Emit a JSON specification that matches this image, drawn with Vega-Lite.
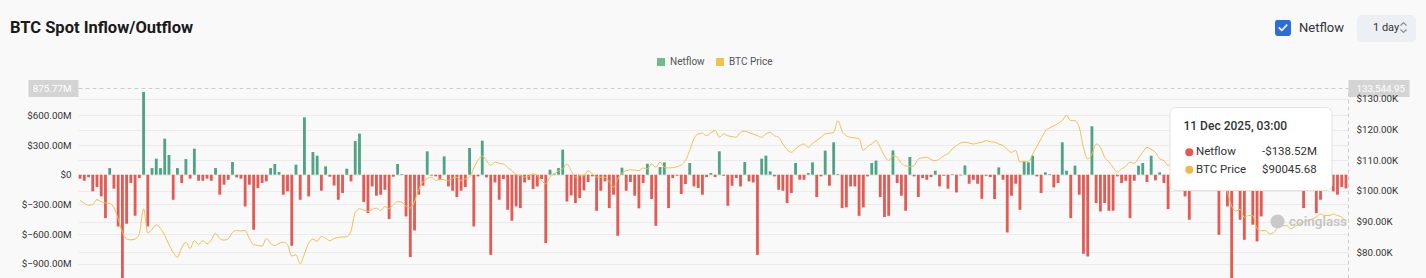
{
  "$schema": "https://vega.github.io/schema/vega-lite/v6.json",
  "width": 1270,
  "height": 190,
  "autosize": "none",
  "padding": {"left": 78, "top": 88, "right": 78, "bottom": 0},
  "background": "#f9f9f9",
  "config": {"font": "Roboto", "view": {"stroke": null}},
  "title": {"text": "BTC Spot Inflow/Outflow", "anchor": "start", "frame": "group", "font": "Roboto", "fontSize": 16.5, "fontWeight": 700, "color": "#1a1a1a", "dx": -68, "offset": 0, "dy": 21},
  "data": {"values": [
{"date":"2025-02-15","netflow":-40,"price":96900},
{"date":"2025-02-16","netflow":-61,"price":96000},
{"date":"2025-02-17","netflow":-25,"price":95300},
{"date":"2025-02-18","netflow":-168,"price":95600},
{"date":"2025-02-19","netflow":-125,"price":97200},
{"date":"2025-02-20","netflow":-219,"price":96500},
{"date":"2025-02-21","netflow":-438,"price":96100},
{"date":"2025-02-22","netflow":67,"price":96000},
{"date":"2025-02-23","netflow":-141,"price":94500},
{"date":"2025-02-24","netflow":-522,"price":91000},
{"date":"2025-02-25","netflow":-1100,"price":86500},
{"date":"2025-02-26","netflow":-495,"price":84400},
{"date":"2025-02-27","netflow":-84,"price":84100},
{"date":"2025-02-28","netflow":-414,"price":84300},
{"date":"2025-03-01","netflow":-34,"price":86000},
{"date":"2025-03-02","netflow":836,"price":94200},
{"date":"2025-03-03","netflow":-522,"price":86300},
{"date":"2025-03-04","netflow":67,"price":87500},
{"date":"2025-03-05","netflow":162,"price":89000},
{"date":"2025-03-06","netflow":67,"price":87800},
{"date":"2025-03-07","netflow":364,"price":85500},
{"date":"2025-03-08","netflow":199,"price":82500},
{"date":"2025-03-09","netflow":-253,"price":80000},
{"date":"2025-03-10","netflow":67,"price":78400},
{"date":"2025-03-11","netflow":-84,"price":81500},
{"date":"2025-03-12","netflow":158,"price":83300},
{"date":"2025-03-13","netflow":-40,"price":81300},
{"date":"2025-03-14","netflow":263,"price":83800},
{"date":"2025-03-15","netflow":-61,"price":82600},
{"date":"2025-03-16","netflow":-61,"price":83800},
{"date":"2025-03-17","netflow":-40,"price":82800},
{"date":"2025-03-18","netflow":-61,"price":84000},
{"date":"2025-03-19","netflow":67,"price":86200},
{"date":"2025-03-20","netflow":-202,"price":84500},
{"date":"2025-03-21","netflow":-101,"price":84000},
{"date":"2025-03-22","netflow":-51,"price":84400},
{"date":"2025-03-23","netflow":128,"price":86500},
{"date":"2025-03-24","netflow":-27,"price":87100},
{"date":"2025-03-25","netflow":-40,"price":87000},
{"date":"2025-03-26","netflow":-320,"price":87100},
{"date":"2025-03-27","netflow":-101,"price":84500},
{"date":"2025-03-28","netflow":-556,"price":82500},
{"date":"2025-03-29","netflow":-135,"price":82300},
{"date":"2025-03-30","netflow":-84,"price":82000},
{"date":"2025-03-31","netflow":-67,"price":84500},
{"date":"2025-04-01","netflow":67,"price":83000},
{"date":"2025-04-02","netflow":108,"price":82200},
{"date":"2025-04-03","netflow":27,"price":83000},
{"date":"2025-04-04","netflow":-202,"price":83300},
{"date":"2025-04-05","netflow":-168,"price":82500},
{"date":"2025-04-06","netflow":-718,"price":78800},
{"date":"2025-04-07","netflow":101,"price":79200},
{"date":"2025-04-08","netflow":-253,"price":76300},
{"date":"2025-04-09","netflow":580,"price":79500},
{"date":"2025-04-10","netflow":-219,"price":83000},
{"date":"2025-04-11","netflow":229,"price":84300},
{"date":"2025-04-12","netflow":192,"price":83600},
{"date":"2025-04-13","netflow":-162,"price":85200},
{"date":"2025-04-14","netflow":84,"price":84600},
{"date":"2025-04-15","netflow":-20,"price":83800},
{"date":"2025-04-16","netflow":-108,"price":84500},
{"date":"2025-04-17","netflow":-253,"price":84900},
{"date":"2025-04-18","netflow":-185,"price":85000},
{"date":"2025-04-19","netflow":61,"price":85100},
{"date":"2025-04-20","netflow":-67,"price":87000},
{"date":"2025-04-21","netflow":340,"price":93000},
{"date":"2025-04-22","netflow":415,"price":94200},
{"date":"2025-04-23","netflow":-276,"price":93800},
{"date":"2025-04-24","netflow":-388,"price":93400},
{"date":"2025-04-25","netflow":-118,"price":94000},
{"date":"2025-04-26","netflow":-212,"price":94400},
{"date":"2025-04-27","netflow":-202,"price":93600},
{"date":"2025-04-28","netflow":-152,"price":94900},
{"date":"2025-04-29","netflow":-448,"price":94300},
{"date":"2025-04-30","netflow":-20,"price":95500},
{"date":"2025-05-01","netflow":108,"price":96500},
{"date":"2025-05-02","netflow":7,"price":96300},
{"date":"2025-05-03","netflow":-421,"price":95000},
{"date":"2025-05-04","netflow":-832,"price":94500},
{"date":"2025-05-05","netflow":-563,"price":96500},
{"date":"2025-05-06","netflow":-202,"price":100500},
{"date":"2025-05-07","netflow":-111,"price":103000},
{"date":"2025-05-08","netflow":236,"price":104000},
{"date":"2025-05-09","netflow":-8,"price":104500},
{"date":"2025-05-10","netflow":-17,"price":103400},
{"date":"2025-05-11","netflow":-51,"price":103900},
{"date":"2025-05-12","netflow":185,"price":103600},
{"date":"2025-05-13","netflow":-118,"price":103400},
{"date":"2025-05-14","netflow":-162,"price":104200},
{"date":"2025-05-15","netflow":-226,"price":104500},
{"date":"2025-05-16","netflow":-162,"price":103400},
{"date":"2025-05-17","netflow":-125,"price":104000},
{"date":"2025-05-18","netflow":270,"price":104500},
{"date":"2025-05-19","netflow":-522,"price":107500},
{"date":"2025-05-20","netflow":-17,"price":110000},
{"date":"2025-05-21","netflow":344,"price":111400},
{"date":"2025-05-22","netflow":-27,"price":109900},
{"date":"2025-05-23","netflow":-809,"price":108300},
{"date":"2025-05-24","netflow":-78,"price":109400},
{"date":"2025-05-25","netflow":-253,"price":109000},
{"date":"2025-05-26","netflow":-44,"price":108800},
{"date":"2025-05-27","netflow":-354,"price":107700},
{"date":"2025-05-28","netflow":-465,"price":106600},
{"date":"2025-05-29","netflow":-320,"price":105300},
{"date":"2025-05-30","netflow":-337,"price":105000},
{"date":"2025-05-31","netflow":-78,"price":104500},
{"date":"2025-06-01","netflow":-51,"price":104800},
{"date":"2025-06-02","netflow":-145,"price":105600},
{"date":"2025-06-03","netflow":-118,"price":105000},
{"date":"2025-06-04","netflow":-44,"price":103400},
{"date":"2025-06-05","netflow":-691,"price":102300},
{"date":"2025-06-06","netflow":51,"price":104500},
{"date":"2025-06-07","netflow":10,"price":105600},
{"date":"2025-06-08","netflow":67,"price":106500},
{"date":"2025-06-09","netflow":253,"price":107200},
{"date":"2025-06-10","netflow":-270,"price":108800},
{"date":"2025-06-11","netflow":-209,"price":106600},
{"date":"2025-06-12","netflow":-286,"price":104500},
{"date":"2025-06-13","netflow":-236,"price":105000},
{"date":"2025-06-14","netflow":-158,"price":105000},
{"date":"2025-06-15","netflow":-74,"price":106600},
{"date":"2025-06-16","netflow":-17,"price":105600},
{"date":"2025-06-17","netflow":-364,"price":104500},
{"date":"2025-06-18","netflow":-162,"price":104500},
{"date":"2025-06-19","netflow":-67,"price":104500},
{"date":"2025-06-20","netflow":-337,"price":103000},
{"date":"2025-06-21","netflow":-202,"price":101200},
{"date":"2025-06-22","netflow":-617,"price":104000},
{"date":"2025-06-23","netflow":71,"price":105800},
{"date":"2025-06-24","netflow":-162,"price":106600},
{"date":"2025-06-25","netflow":-74,"price":106900},
{"date":"2025-06-26","netflow":-212,"price":106800},
{"date":"2025-06-27","netflow":-340,"price":106600},
{"date":"2025-06-28","netflow":-84,"price":107500},
{"date":"2025-06-29","netflow":111,"price":107200},
{"date":"2025-06-30","netflow":-246,"price":108800},
{"date":"2025-07-01","netflow":-516,"price":107700},
{"date":"2025-07-02","netflow":78,"price":109400},
{"date":"2025-07-03","netflow":125,"price":107700},
{"date":"2025-07-04","netflow":-337,"price":107500},
{"date":"2025-07-05","netflow":-34,"price":107600},
{"date":"2025-07-06","netflow":-10,"price":107900},
{"date":"2025-07-07","netflow":-195,"price":108500},
{"date":"2025-07-08","netflow":-94,"price":110000},
{"date":"2025-07-09","netflow":118,"price":113200},
{"date":"2025-07-10","netflow":-118,"price":117000},
{"date":"2025-07-11","netflow":-135,"price":118600},
{"date":"2025-07-12","netflow":-202,"price":118800},
{"date":"2025-07-13","netflow":-24,"price":118000},
{"date":"2025-07-14","netflow":17,"price":119000},
{"date":"2025-07-15","netflow":-24,"price":119700},
{"date":"2025-07-16","netflow":236,"price":117500},
{"date":"2025-07-17","netflow":-10,"price":118600},
{"date":"2025-07-18","netflow":-313,"price":118000},
{"date":"2025-07-19","netflow":-111,"price":117700},
{"date":"2025-07-20","netflow":-34,"price":117500},
{"date":"2025-07-21","netflow":-118,"price":119100},
{"date":"2025-07-22","netflow":128,"price":119500},
{"date":"2025-07-23","netflow":-67,"price":119000},
{"date":"2025-07-24","netflow":-78,"price":118500},
{"date":"2025-07-25","netflow":-809,"price":118000},
{"date":"2025-07-26","netflow":162,"price":117500},
{"date":"2025-07-27","netflow":192,"price":118600},
{"date":"2025-07-28","netflow":34,"price":119100},
{"date":"2025-07-29","netflow":-17,"price":118000},
{"date":"2025-07-30","netflow":-152,"price":117500},
{"date":"2025-07-31","netflow":-162,"price":115300},
{"date":"2025-08-01","netflow":-286,"price":113500},
{"date":"2025-08-02","netflow":-185,"price":112600},
{"date":"2025-08-03","netflow":118,"price":113700},
{"date":"2025-08-04","netflow":-51,"price":114800},
{"date":"2025-08-05","netflow":-51,"price":115300},
{"date":"2025-08-06","netflow":17,"price":114200},
{"date":"2025-08-07","netflow":125,"price":115500},
{"date":"2025-08-08","netflow":-226,"price":116400},
{"date":"2025-08-09","netflow":-17,"price":117500},
{"date":"2025-08-10","netflow":243,"price":118600},
{"date":"2025-08-11","netflow":-111,"price":118800},
{"date":"2025-08-12","netflow":327,"price":119100},
{"date":"2025-08-13","netflow":7,"price":122900},
{"date":"2025-08-14","netflow":-337,"price":119500},
{"date":"2025-08-15","netflow":-330,"price":118000},
{"date":"2025-08-16","netflow":-118,"price":117500},
{"date":"2025-08-17","netflow":-118,"price":117300},
{"date":"2025-08-18","netflow":-415,"price":117000},
{"date":"2025-08-19","netflow":-330,"price":113200},
{"date":"2025-08-20","netflow":-17,"price":114500},
{"date":"2025-08-21","netflow":118,"price":115300},
{"date":"2025-08-22","netflow":142,"price":116400},
{"date":"2025-08-23","netflow":-226,"price":114200},
{"date":"2025-08-24","netflow":-428,"price":111500},
{"date":"2025-08-25","netflow":-415,"price":109900},
{"date":"2025-08-26","netflow":246,"price":111500},
{"date":"2025-08-27","netflow":-84,"price":111000},
{"date":"2025-08-28","netflow":-212,"price":109000},
{"date":"2025-08-29","netflow":-364,"price":108200},
{"date":"2025-08-30","netflow":179,"price":107900},
{"date":"2025-08-31","netflow":-17,"price":108300},
{"date":"2025-09-01","netflow":-226,"price":110400},
{"date":"2025-09-02","netflow":-34,"price":110800},
{"date":"2025-09-03","netflow":-51,"price":111000},
{"date":"2025-09-04","netflow":-24,"price":110200},
{"date":"2025-09-05","netflow":40,"price":109900},
{"date":"2025-09-06","netflow":-118,"price":110400},
{"date":"2025-09-07","netflow":-10,"price":111500},
{"date":"2025-09-08","netflow":-141,"price":112100},
{"date":"2025-09-09","netflow":7,"price":113700},
{"date":"2025-09-10","netflow":-179,"price":114800},
{"date":"2025-09-11","netflow":-7,"price":115600},
{"date":"2025-09-12","netflow":94,"price":115900},
{"date":"2025-09-13","netflow":-91,"price":115600},
{"date":"2025-09-14","netflow":-51,"price":115300},
{"date":"2025-09-15","netflow":-91,"price":115600},
{"date":"2025-09-16","netflow":-243,"price":115900},
{"date":"2025-09-17","netflow":-10,"price":116400},
{"date":"2025-09-18","netflow":-24,"price":116000},
{"date":"2025-09-19","netflow":-246,"price":115900},
{"date":"2025-09-20","netflow":74,"price":115300},
{"date":"2025-09-21","netflow":-51,"price":114800},
{"date":"2025-09-22","netflow":-583,"price":113500},
{"date":"2025-09-23","netflow":-212,"price":112600},
{"date":"2025-09-24","netflow":-91,"price":113200},
{"date":"2025-09-25","netflow":-354,"price":109400},
{"date":"2025-09-26","netflow":131,"price":109700},
{"date":"2025-09-27","netflow":125,"price":109500},
{"date":"2025-09-28","netflow":192,"price":112000},
{"date":"2025-09-29","netflow":-17,"price":114500},
{"date":"2025-09-30","netflow":-185,"price":117000},
{"date":"2025-10-01","netflow":24,"price":119500},
{"date":"2025-10-02","netflow":7,"price":120500},
{"date":"2025-10-03","netflow":-128,"price":121200},
{"date":"2025-10-04","netflow":-84,"price":122000},
{"date":"2025-10-05","netflow":327,"price":123000},
{"date":"2025-10-06","netflow":40,"price":124600},
{"date":"2025-10-07","netflow":-438,"price":122900},
{"date":"2025-10-08","netflow":91,"price":122900},
{"date":"2025-10-09","netflow":-202,"price":120800},
{"date":"2025-10-10","netflow":-799,"price":114200},
{"date":"2025-10-11","netflow":-826,"price":110400},
{"date":"2025-10-12","netflow":489,"price":112000},
{"date":"2025-10-13","netflow":-286,"price":115300},
{"date":"2025-10-14","netflow":-371,"price":114200},
{"date":"2025-10-15","netflow":-286,"price":111000},
{"date":"2025-10-16","netflow":-364,"price":109500},
{"date":"2025-10-17","netflow":-364,"price":107700},
{"date":"2025-10-18","netflow":-17,"price":106100},
{"date":"2025-10-19","netflow":-84,"price":107200},
{"date":"2025-10-20","netflow":-61,"price":108000},
{"date":"2025-10-21","netflow":-438,"price":109400},
{"date":"2025-10-22","netflow":-61,"price":109000},
{"date":"2025-10-23","netflow":91,"price":110800},
{"date":"2025-10-24","netflow":118,"price":112600},
{"date":"2025-10-25","netflow":-74,"price":114200},
{"date":"2025-10-26","netflow":192,"price":113500},
{"date":"2025-10-27","netflow":-57,"price":112600},
{"date":"2025-10-28","netflow":24,"price":110500},
{"date":"2025-10-29","netflow":-84,"price":109900},
{"date":"2025-10-30","netflow":-347,"price":108300},
{"date":"2025-10-31","netflow":-60,"price":109500},
{"date":"2025-11-01","netflow":40,"price":110000},
{"date":"2025-11-02","netflow":-90,"price":110500},
{"date":"2025-11-03","netflow":-219,"price":106500},
{"date":"2025-11-04","netflow":-455,"price":101500},
{"date":"2025-11-05","netflow":-120,"price":103500},
{"date":"2025-11-06","netflow":-80,"price":101500},
{"date":"2025-11-07","netflow":60,"price":103000},
{"date":"2025-11-08","netflow":-40,"price":102500},
{"date":"2025-11-09","netflow":30,"price":104500},
{"date":"2025-11-10","netflow":-110,"price":106000},
{"date":"2025-11-11","netflow":-607,"price":103000},
{"date":"2025-11-12","netflow":-130,"price":101500},
{"date":"2025-11-13","netflow":-320,"price":99500},
{"date":"2025-11-14","netflow":-1100,"price":95000},
{"date":"2025-11-15","netflow":-140,"price":93500},
{"date":"2025-11-16","netflow":-455,"price":94000},
{"date":"2025-11-17","netflow":-657,"price":91400},
{"date":"2025-11-18","netflow":-120,"price":92000},
{"date":"2025-11-19","netflow":-505,"price":92000},
{"date":"2025-11-20","netflow":-674,"price":87700},
{"date":"2025-11-21","netflow":-421,"price":87000},
{"date":"2025-11-22","netflow":-130,"price":87100},
{"date":"2025-11-23","netflow":50,"price":86000},
{"date":"2025-11-24","netflow":-100,"price":86500},
{"date":"2025-11-25","netflow":80,"price":88200},
{"date":"2025-11-26","netflow":-60,"price":88700},
{"date":"2025-11-27","netflow":120,"price":88700},
{"date":"2025-11-28","netflow":-90,"price":87700},
{"date":"2025-11-29","netflow":-40,"price":88500},
{"date":"2025-11-30","netflow":70,"price":89300},
{"date":"2025-12-01","netflow":-337,"price":90000},
{"date":"2025-12-02","netflow":-110,"price":90400},
{"date":"2025-12-03","netflow":30,"price":90900},
{"date":"2025-12-04","netflow":-388,"price":91500},
{"date":"2025-12-05","netflow":-253,"price":92500},
{"date":"2025-12-06","netflow":-80,"price":92000},
{"date":"2025-12-07","netflow":-60,"price":92000},
{"date":"2025-12-08","netflow":-168,"price":92500},
{"date":"2025-12-09","netflow":-202,"price":92000},
{"date":"2025-12-10","netflow":-125,"price":91500},
{"date":"2025-12-11","netflow":-138.52,"price":90045.68}
  ]},
  "layer": [
    {
      "mark": {"type": "bar", "clip": true, "strokeWidth": 0},
      "encoding": {
        "x": {"field": "date", "type": "ordinal", "axis": null, "scale": {"paddingInner": 0.33, "paddingOuter": 0.15}},
        "y": {
          "field": "netflow", "type": "quantitative",
          "scale": {"domain": [-1043, 875.77], "nice": false, "zero": false},
          "axis": {
            "orient": "left", "title": null,
            "values": [-900, -600, -300, 0, 300, 600, 875.77],
            "labelExpr": "datum.value == 875.77 ? '875.77M' : (datum.value == 0 ? '$0' : '$' + format(datum.value, '.2f') + 'M')",
            "domain": false,
            "tickSize": 50, "tickWidth": 17,
            "tickColor": {"condition": {"test": "datum.value == 875.77", "value": "#d4d4d4"}, "value": "transparent"},
            "labelPadding": -43,
            "labelFontSize": 9.8,
            "labelColor": {"condition": {"test": "datum.value == 875.77", "value": "#ffffff"}, "value": "#333333"},
            "labelAlign": "right",
            "labelFlush": false, "labelOverlap": false, "labelBound": false,
            "grid": true,
            "gridColor": {"condition": {"test": "datum.value == 875.77", "value": "#cccccc"}, "value": "#ebebeb"},
            "gridDash": {"condition": {"test": "datum.value == 875.77", "value": [4, 3]}, "value": []}
          }
        },
        "color": {
          "datum": "Netflow",
          "scale": {"domain": ["Netflow", "BTC Price"], "range": ["#6cbd8a", "#f0c050"]},
          "condition": [
            {"test": "datum.netflow < 0", "value": "#e25b55"},
            {"test": "datum.netflow >= 0", "value": "#4fa486"}
          ],
          "legend": {
            "orient": "none", "legendX": 578, "legendY": -31, "direction": "horizontal", "title": null,
            "symbolType": "square", "symbolSize": 64, "symbolStrokeWidth": 0, "symbolOpacity": 1,
            "labelFontSize": 10, "labelColor": "#555555", "labelOffset": 4, "columnPadding": 10, "padding": 0
          }
        }
      }
    },
    {
      "mark": {"type": "line", "strokeWidth": 1, "interpolate": "monotone"},
      "encoding": {
        "x": {"field": "date", "type": "ordinal"},
        "y": {
          "field": "price", "type": "quantitative",
          "scale": {"domain": [71650, 133544.95], "nice": false, "zero": false},
          "axis": {
            "orient": "right", "title": null,
            "values": [80000, 90000, 100000, 110000, 120000, 130000, 133544.95],
            "labelExpr": "datum.value == 133544.95 ? '133,544.95' : '$' + format(datum.value / 1000, '.2f') + 'K'",
            "domain": true, "domainColor": "#cccccc", "domainDash": [4, 3], "domainWidth": 1,
            "tickSize": 61, "tickWidth": 17,
            "tickColor": {"condition": {"test": "datum.value == 133544.95", "value": "#d4d4d4"}, "value": "transparent"},
            "labelPadding": -53,
            "labelFontSize": 9.8,
            "labelColor": {"condition": {"test": "datum.value == 133544.95", "value": "#ffffff"}, "value": "#333333"},
            "labelAlign": "left",
            "labelFlush": false, "labelOverlap": false, "labelBound": false,
            "grid": true,
            "gridColor": {"condition": {"test": "datum.value == 133544.95", "value": "transparent"}, "value": "#ebebeb"}
          }
        },
        "color": {"datum": "BTC Price"}
      }
    },
    {
      "data": {"values": []},
      "mark": {"type": "point", "filled": true, "opacity": 1, "color": "#c9c9c9", "strokeWidth": 0},
      "encoding": {
        "shape": {
          "field": "brand", "type": "nominal",
          "scale": {"domain": ["coinglass"], "range": ["circle"]},
          "legend": {
            "orient": "none", "legendX": 1192, "legendY": 126, "title": null,
            "symbolSize": 200, "symbolStrokeWidth": 0, "symbolStrokeColor": "transparent", "symbolFillColor": "#c9c9c9", "symbolOpacity": 1,
            "labelFontSize": 13.5, "labelFontWeight": 600, "labelColor": "#c4c4c4", "labelOffset": 4, "padding": 0
          }
        }
      }
    },
    {
      "data": {"values": []},
      "mark": {"type": "point", "filled": true, "opacity": 1, "strokeWidth": 0},
      "encoding": {
        "fill": {
          "field": "entry", "type": "nominal",
          "scale": {"domain": ["Netflow", "BTC Price", "-$138.52M", "$90045.68"], "range": ["#e5574f", "#f0b84a", "transparent", "transparent"]},
          "legend": {
            "orient": "none", "legendX": 1091.5, "legendY": 19,
            "title": "11 Dec 2025, 03:00", "titleFontSize": 12, "titleFontWeight": 500, "titleColor": "#333333", "titlePadding": 13,
            "fillColor": "#ffffff", "strokeColor": "#e2e2e2", "cornerRadius": 6, "padding": 14,
            "columns": 2, "columnPadding": 3, "rowPadding": 5,
            "symbolType": "circle", "symbolSize": 64, "symbolStrokeWidth": 0, "symbolStrokeColor": "transparent", "symbolOpacity": 1,
            "labelFontSize": 11.5, "labelColor": "#333333", "labelOffset": 1, "labelLimit": 200
          }
        }
      }
    },
    {
      "data": {"values": []},
      "mark": {"type": "point", "filled": true, "opacity": 1, "color": "#2b6fd6", "strokeWidth": 0},
      "encoding": {
        "shape": {
          "field": "toggle", "type": "nominal",
          "scale": {"domain": ["Netflow"], "range": ["M-1,-0.7 Q-1,-1 -0.7,-1 L0.7,-1 Q1,-1 1,-0.7 L1,0.7 Q1,1 0.7,1 L-0.7,1 Q-1,1 -1,0.7 Z M-0.6,0 L-0.15,0.45 L0.6,-0.35 L0.45,-0.5 L-0.15,0.15 L-0.45,-0.15 Z"]},
          "legend": {
            "orient": "none", "legendX": 1197, "legendY": -68, "title": null,
            "symbolSize": 256, "symbolStrokeWidth": 0, "symbolStrokeColor": "transparent", "symbolFillColor": "#2b6fd6", "symbolOpacity": 1,
            "labelFontSize": 13, "labelColor": "#333333", "labelOffset": 8, "padding": 0
          }
        }
      }
    },
    {
      "data": {"values": []},
      "mark": {"type": "point", "filled": false, "opacity": 1, "color": "#8a9099", "strokeWidth": 1.2},
      "encoding": {
        "shape": {
          "field": "interval", "type": "nominal",
          "scale": {"domain": ["1 day"], "range": ["M31,-2 L34,-5 L37,-2 M31,2 L34,5 L37,2"]},
          "legend": {
            "orient": "none", "legendX": 1279, "legendY": -73, "title": null,
            "fillColor": "#eceff3", "cornerRadius": 5, "padding": 7,
            "symbolSize": 4, "symbolStrokeWidth": 1.2, "symbolStrokeColor": "#8a9099", "symbolOpacity": 1,
            "labelFontSize": 11, "labelColor": "#333333", "labelOffset": -2
          }
        }
      }
    }
  ],
  "resolve": {"scale": {"y": "independent", "shape": "independent"}}
}
